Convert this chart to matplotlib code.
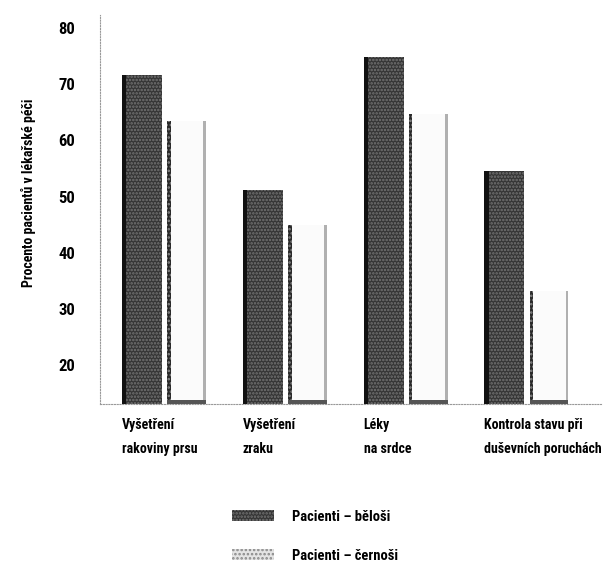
import matplotlib
matplotlib.use("Agg")
import matplotlib.pyplot as plt
from matplotlib.patches import Patch
import numpy as np

plt.rcParams['font.family'] = ['Roboto Condensed', 'DejaVu Sans']
plt.rcParams['font.stretch'] = 'condensed'
plt.rcParams['hatch.linewidth'] = 1.2

categories = ["Vyšetření\nrakoviny prsu", "Vyšetření\nzraku", "Léky\nna srdce",
              "Kontrola stavu při\nduševních poruchách"]
white_patients = [71.6, 51.1, 74.8, 54.5]
black_patients = [63.5, 45.0, 64.8, 33.2]
series_labels = ["Pacienti – běloši", "Pacienti – černoši"]
y_ticks = [20, 30, 40, 50, 60, 70, 80]
y_label = "Procento pacientů v lékařské péči"

y_min, y_max = 13.1, 82.3
x = np.arange(len(categories))
w_dark, w_light = 0.33, 0.32
off_light = 0.369
edge = 0.035

fig = plt.figure(figsize=(6.09, 5.64), dpi=100)
ax = fig.add_axes([0.1642, 0.284, 0.8227, 0.689])

# dark series: stippled dark grey bar with a black left edge
ax.bar(x, np.array(white_patients) - y_min, bottom=y_min, width=w_dark,
       color='#353535', hatch='.....', edgecolor='#747474', linewidth=0, zorder=2)
ax.bar(x - w_dark / 2 + edge / 2, np.array(white_patients) - y_min, bottom=y_min,
       width=edge, color='#111111', linewidth=0, zorder=3)

# light series: pale bar with dark left edge and grey right edge
ax.bar(x + off_light, np.array(black_patients) - y_min, bottom=y_min, width=w_light,
       color='#fbfbfb', linewidth=0, zorder=2)
ax.bar(x + off_light - w_light / 2 + 0.015, np.array(black_patients) - y_min, bottom=y_min,
       width=0.03, color='#2a2a2a', hatch='....', edgecolor='#888888', linewidth=0, zorder=3)
ax.bar(x + off_light + w_light / 2 - 0.011, np.array(black_patients) - y_min, bottom=y_min,
       width=0.022, color='#b0b0b0', linewidth=0, zorder=3)
ax.bar(x + off_light, 0.6, bottom=y_min, width=w_light, color='#555555',
       linewidth=0, zorder=3)

ax.set_xlim(-0.348, 3.80)
ax.set_ylim(y_min, y_max)
ax.set_yticks(y_ticks)
ax.set_yticklabels([str(t) for t in y_ticks], fontsize=12, fontweight='bold')
ax.tick_params(axis='y', length=0, pad=18)
ax.set_xticks([])

for s in ['top', 'right']:
    ax.spines[s].set_visible(False)
for s in ['left', 'bottom']:
    ax.spines[s].set_linestyle((0, (1, 1.5)))
    ax.spines[s].set_color('#999999')
    ax.spines[s].set_linewidth(0.8)

ax.set_ylabel(y_label, fontsize=10, fontweight='bold')
ax.yaxis.set_label_coords(-0.128, 0.542)

for xi, cat in zip(x, categories):
    ax.annotate(cat, xy=(xi - w_dark / 2, 0), xycoords=('data', 'axes fraction'),
                xytext=(0, -10), textcoords='offset points', ha='left', va='top',
                fontsize=10, fontweight='bold', linespacing=1.9)

handles = [Patch(facecolor='#353535', hatch='.....', edgecolor='#747474', linewidth=0),
           Patch(facecolor='#e4e4e4', hatch='....', edgecolor='#888888', linewidth=0)]
fig.legend(handles, series_labels, loc='upper left', bbox_to_anchor=(0.381, 0.096),
           frameon=False, prop={'weight': 'bold', 'size': 10.5},
           handlelength=2.9, handleheight=0.75, handletextpad=1.2,
           labelspacing=1.7, borderpad=0, borderaxespad=0)

fig.savefig("out.png", dpi=100)
